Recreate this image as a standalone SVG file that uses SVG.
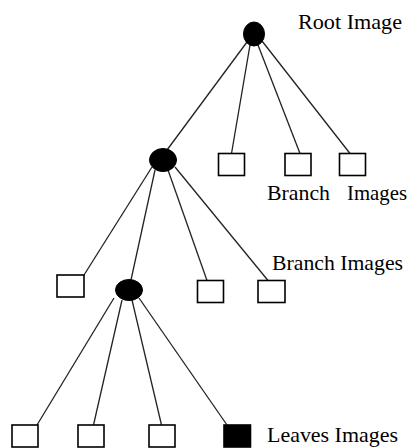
<svg xmlns="http://www.w3.org/2000/svg" width="409" height="448" viewBox="0 0 409 448">
<style>
.box{fill:#fff;stroke:#000;stroke-width:1.6}
.leaf{fill:#000;stroke:#000;stroke-width:1.6}
.node{fill:#000;stroke:#000;stroke-width:1}
.edge{stroke:#222;stroke-width:1.3;fill:none}
.lbl{font-family:"Liberation Serif","Times New Roman",serif;font-size:21px;fill:#000}
</style>
<rect width="409" height="448" fill="#fff"/>
<g id="connectors">
<line class="edge" x1="250" y1="45" x2="231.5" y2="153.5"/>
<line class="edge" x1="258" y1="45" x2="300" y2="153.5"/>
<line class="edge" x1="262" y1="41" x2="350" y2="153.5"/>
<line class="edge" x1="247" y1="42" x2="167" y2="150"/>
<line class="edge" x1="152" y1="167" x2="84" y2="275"/>
<line class="edge" x1="155" y1="170" x2="131" y2="280"/>
<line class="edge" x1="168" y1="170" x2="207" y2="280.5"/>
<line class="edge" x1="175" y1="167" x2="268" y2="280.5"/>
<line class="edge" x1="114" y1="298" x2="37" y2="425"/>
<line class="edge" x1="122" y1="300" x2="93.5" y2="425"/>
<line class="edge" x1="132" y1="300" x2="161.5" y2="425"/>
<line class="edge" x1="139" y1="298" x2="227" y2="425"/>
</g>
<g id="root"><ellipse class="node" cx="254" cy="34" rx="10.5" ry="12"/></g>
<g id="mid"><ellipse class="node" cx="163" cy="160" rx="13.5" ry="11.5"/></g>
<g id="low"><ellipse class="node" cx="129" cy="290" rx="13.5" ry="10.5"/></g>
<g id="r1"><rect class="box" x="218.5" y="153.5" width="26" height="22"/></g>
<g id="r2"><rect class="box" x="285" y="153.5" width="26" height="22"/></g>
<g id="r3"><rect class="box" x="339.5" y="153.5" width="26" height="22"/></g>
<g id="m1"><rect class="box" x="57" y="275" width="27" height="22"/></g>
<g id="m3"><rect class="box" x="197.5" y="280.5" width="26" height="22"/></g>
<g id="m4"><rect class="box" x="258" y="280.5" width="27" height="22"/></g>
<g id="l1"><rect class="box" x="12" y="425" width="26" height="22"/></g>
<g id="l2"><rect class="box" x="78" y="425" width="26" height="22"/></g>
<g id="l3"><rect class="box" x="149" y="425" width="26" height="22"/></g>
<g id="l4"><rect class="leaf" x="224" y="425" width="26.5" height="22"/></g>
<g id="labels">
<text class="lbl" x="298" y="29" textLength="104" lengthAdjust="spacingAndGlyphs">Root Image</text>
<text class="lbl" x="267" y="200" textLength="63" lengthAdjust="spacingAndGlyphs">Branch</text>
<text class="lbl" x="347" y="200" textLength="60" lengthAdjust="spacingAndGlyphs">Images</text>
<text class="lbl" x="272" y="270" textLength="131" lengthAdjust="spacingAndGlyphs">Branch Images</text>
<text class="lbl" x="267" y="442" textLength="131" lengthAdjust="spacingAndGlyphs">Leaves Images</text>
</g>
</svg>
